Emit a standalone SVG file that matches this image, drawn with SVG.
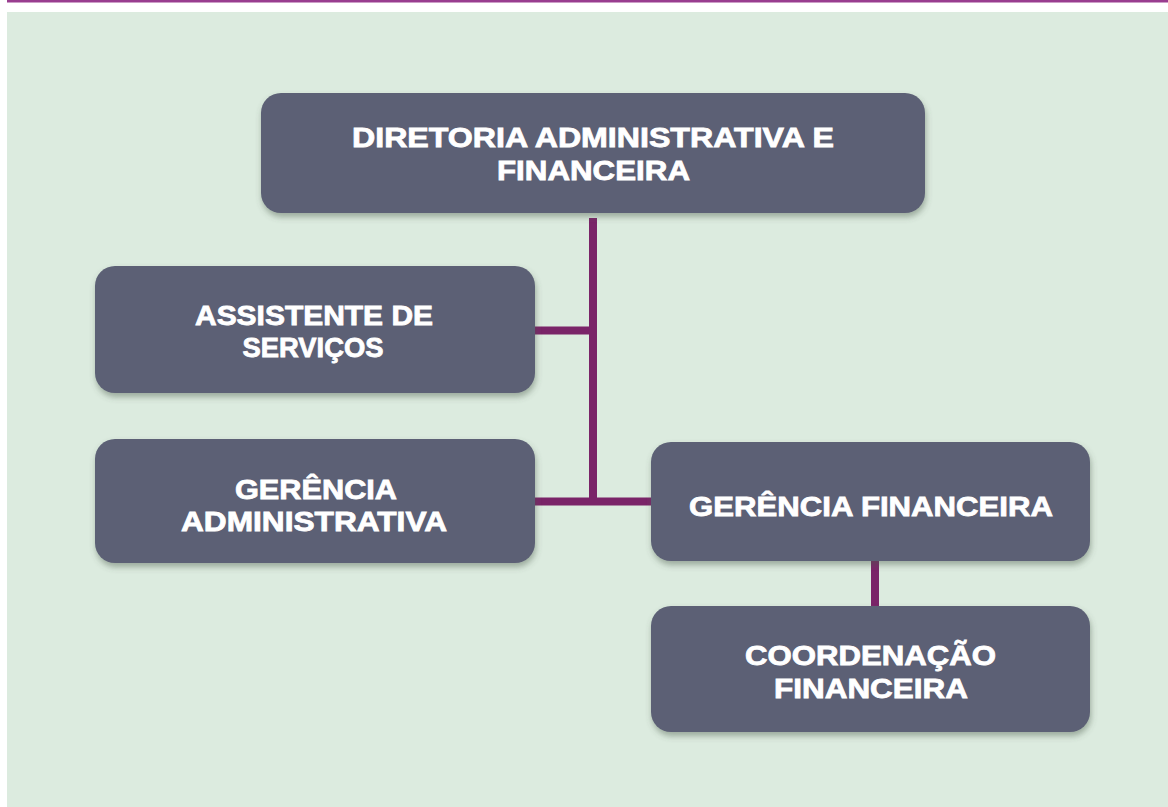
<svg xmlns="http://www.w3.org/2000/svg" width="1168" height="807" viewBox="0 0 1168 807">
<defs>
<style>
.box{fill:#5c6075;filter:url(#sh);}
.t{font-family:"Liberation Sans",Arial,sans-serif;font-weight:700;font-size:27px;fill:#ffffff;stroke:#ffffff;stroke-width:0.8;text-anchor:middle;}
.c{stroke:#7a2468;stroke-width:8;fill:none;}
</style>
<filter id="sh" x="-10%" y="-10%" width="120%" height="130%">
<feDropShadow dx="1" dy="4" stdDeviation="3" flood-color="#4a5a48" flood-opacity="0.45"/>
</filter>
</defs>
<rect x="0" y="0" width="1168" height="807" fill="#ffffff"/>
<rect x="7" y="0" width="1161" height="2.5" fill="#993d8f"/>
<rect x="7" y="12" width="1161" height="795" fill="#dcebdf"/>
<g id="connectors">
<line class="c" x1="593" y1="218" x2="593" y2="505"/>
<line class="c" x1="535" y1="330.5" x2="597" y2="330.5"/>
<line class="c" x1="535" y1="501.5" x2="651" y2="501.5"/>
<line class="c" x1="875" y1="560" x2="875" y2="606"/>
</g>
<g id="n1">
<rect class="box" x="261" y="93" width="664" height="120" rx="20"/>
<text class="t" x="593" y="147" textLength="482" lengthAdjust="spacingAndGlyphs">DIRETORIA ADMINISTRATIVA E</text>
<text class="t" x="593.5" y="180" textLength="193" lengthAdjust="spacingAndGlyphs">FINANCEIRA</text>
</g>
<g id="n2">
<rect class="box" x="95" y="266" width="440" height="127" rx="20"/>
<text class="t" x="314" y="325" textLength="238" lengthAdjust="spacingAndGlyphs">ASSISTENTE DE</text>
<text class="t" x="313" y="357" textLength="141" lengthAdjust="spacingAndGlyphs">SERVIÇOS</text>
</g>
<g id="n3">
<rect class="box" x="95" y="439" width="440" height="124" rx="20"/>
<text class="t" x="316" y="499" textLength="162" lengthAdjust="spacingAndGlyphs">GERÊNCIA</text>
<text class="t" x="314" y="531" textLength="266" lengthAdjust="spacingAndGlyphs">ADMINISTRATIVA</text>
</g>
<g id="n4">
<rect class="box" x="651" y="442" width="439" height="119" rx="20"/>
<text class="t" x="871" y="516" textLength="364" lengthAdjust="spacingAndGlyphs">GERÊNCIA FINANCEIRA</text>
</g>
<g id="n5">
<rect class="box" x="651" y="606" width="439" height="126" rx="20"/>
<text class="t" x="870.5" y="665" textLength="251" lengthAdjust="spacingAndGlyphs">COORDENAÇÃO</text>
<text class="t" x="871" y="698" textLength="194" lengthAdjust="spacingAndGlyphs">FINANCEIRA</text>
</g>
</svg>
